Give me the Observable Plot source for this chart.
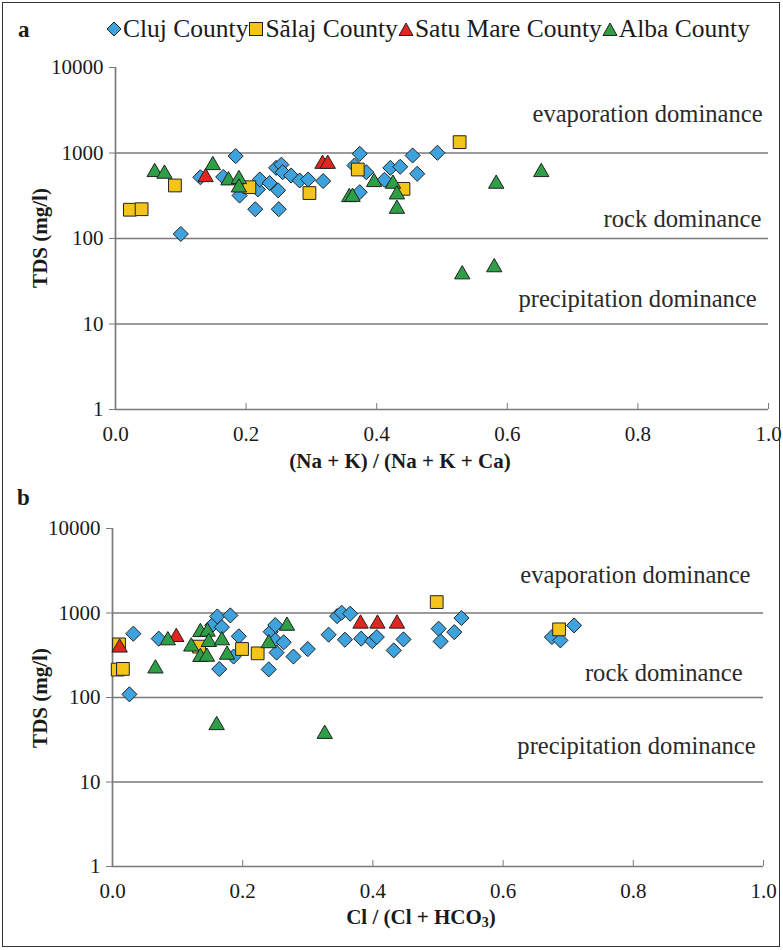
<!DOCTYPE html>
<html><head><meta charset="utf-8">
<script src="https://cdn.jsdelivr.net/npm/d3@7"></script>
<script src="https://cdn.jsdelivr.net/npm/@observablehq/plot@0.6"></script>
<style>
body{margin:0;background:#fff;}
#fig{position:relative;width:783px;height:950px;overflow:hidden;font-family:"Liberation Serif","Times New Roman",serif;color:#1a1a1a;background:#fff}
.frame{position:absolute;left:2px;top:2px;width:776px;height:943px;border:1.5px solid #333;pointer-events:none}
.abs{position:absolute;white-space:nowrap;}
.panel{position:absolute;left:0;}
.ttl{font-weight:bold;font-size:21px;transform:translate(-50%,-50%);}
.ylab{font-weight:bold;font-size:21px;transform:translate(-50%,-50%) rotate(-90deg);}
.legend{position:absolute;left:106px;top:14px;display:flex;align-items:center;font-size:25.5px;white-space:nowrap;}
.legend svg{margin-right:1px}
</style></head><body>
<div id="fig"></div>
<script>
// ---------- data ----------
const counties = ["Cluj County", "Sălaj County", "Satu Mare County", "Alba County"];
const xTicks = [0, 0.2, 0.4, 0.6, 0.8, 1.0];
const yTicks = [1, 10, 100, 1000, 10000];
const gridTDS = [10, 100, 1000];

// panel a: (Na + K) / (Na + K + Ca) vs TDS
const aCluj_x = [0.100,0.130,0.165,0.184,0.190,0.214,0.218,0.221,0.236,0.246,0.249,0.250,0.254,0.256,0.269,0.282,0.295,0.318,0.366,0.374,0.374,0.384,0.412,0.421,0.436,0.455,0.462,0.493];
const aCluj_tds = [113,520,525,920,318,220,375,490,445,670,366,220,730,597,545,477,490,470,714,979,348,597,486,670,690,935,571,1005];
const aSalaj_x = [0.022,0.040,0.091,0.205,0.297,0.371,0.441,0.527];
const aSalaj_tds = [217,220,417,398,340,641,381,1339];
const aSatu_x = [0.138,0.317,0.325];
const aSatu_tds = [521,745,745];
const aAlba_x = [0.060,0.075,0.149,0.173,0.189,0.189,0.358,0.363,0.396,0.425,0.431,0.431,0.531,0.580,0.583,0.652];
const aAlba_tds = [597,571,720,477,494,394,304,306,456,436,327,222,38,46,436,597];

// panel b: Cl / (Cl + HCO3) vs TDS
const bCluj_x = [0.026,0.032,0.071,0.153,0.161,0.164,0.168,0.181,0.186,0.194,0.240,0.243,0.250,0.250,0.252,0.263,0.278,0.300,0.332,0.345,0.352,0.365,0.357,0.382,0.399,0.406,0.432,0.447,0.501,0.504,0.525,0.536,0.675,0.688,0.709];
const bCluj_tds = [109,569,497,714,910,217,680,937,305,530,215,600,720,475,340,450,305,374,554,918,1008,980,483,497,464,519,361,487,652,461,594,871,519,474,713];
const bSalaj_x = [0.008,0.016,0.010,0.133,0.199,0.223,0.498,0.686];
const bSalaj_tds = [214,218,425,400,375,333,1346,640];
const bSatu_x = [0.011,0.098,0.381,0.407,0.437];
const bSatu_tds = [389,519,747,747,747];
const bAlba_x = [0.066,0.085,0.121,0.135,0.146,0.135,0.145,0.148,0.168,0.176,0.160,0.240,0.268,0.326];
const bAlba_tds = [220,474,400,594,600,301,303,453,474,320,47,438,705,37];

// zone annotations
const zoneNames = ["evaporation dominance", "rock dominance", "precipitation dominance"];
const aZone_x = [0.991, 0.989, 0.982];
const aZone_tds = [2820, 168, 19.3];
const bZone_x = [0.980, 0.968, 0.988];
const bZone_tds = [2780, 193, 26.5];

// ---------- styles ----------
const fills = ["#3ea2dc", "#f5c419", "#e0261f", "#2e9e47"];
const symbols = ["diamond2", "square", "triangle", "triangle"];
const radii = [6.8, 7.2, 5.7, 5.7];

const zip = (xs, ys) => xs.map((x, i) => ({x, y: ys[i]}));
const AX = "#7a7a7a";

function panel(seriesX, seriesY, zx, zy, o) {
  const notes = zoneNames.map((t, i) => ({t, x: zx[i], y: zy[i]}));
  const marks = [
    Plot.ruleY(gridTDS, {stroke: AX, strokeWidth: 1.7}),
    Plot.ruleX([0], {stroke: AX, strokeWidth: 1.7}),
    Plot.ruleY([1], {stroke: AX, strokeWidth: 1.7}),
    Plot.axisY({ticks: yTicks, tickFormat: d => String(d), tickSize: 6, tickPadding: 6, stroke: AX, label: null, fill: "#1a1a1a"}),
    Plot.axisX({ticks: xTicks, tickFormat: () => "", tickSize: -6, stroke: AX, label: null}),
    Plot.axisX({ticks: xTicks, tickFormat: d3.format(".1f"), tickSize: 0, tickPadding: 17, label: null, fill: "#1a1a1a"}),
    Plot.text(notes, {x: "x", y: "y", text: "t", textAnchor: "end", fontSize: 24.6, fill: "#2a2a2a"})
  ];
  seriesX.forEach((xs, k) => {
    marks.push(Plot.dot(zip(xs, seriesY[k]), {
      x: "x", y: "y", symbol: symbols[k], r: radii[k], fill: fills[k],
      stroke: "#222", strokeWidth: 1
    }));
  });
  return Plot.plot({
    width: 783, height: 440,
    marginLeft: o.ml, marginRight: o.mr, marginTop: 20, marginBottom: o.mb,
    x: {domain: [0, 1], label: null},
    y: {type: "log", domain: [1, 10000], label: null},
    style: {fontFamily: "'Liberation Serif', 'Times New Roman', serif", fontSize: "21px", background: "transparent", overflow: "visible"},
    marks
  });
}

const fig = document.getElementById("fig");

const pa = panel([aCluj_x, aSalaj_x, aSatu_x, aAlba_x], [aCluj_tds, aSalaj_tds, aSatu_tds, aAlba_tds], aZone_x, aZone_tds, {ml: 115, mr: 15, mb: 78});
pa.classList.add("panel"); pa.style.top = "47px";
fig.appendChild(pa);

const pb = panel([bCluj_x, bSalaj_x, bSatu_x, bAlba_x], [bCluj_tds, bSalaj_tds, bSatu_tds, bAlba_tds], bZone_x, bZone_tds, {ml: 112, mr: 20, mb: 82});
pb.classList.add("panel"); pb.style.top = "508px";
fig.appendChild(pb);

// labels
function addDiv(cls, html, left, top, extra) {
  const d = document.createElement("div");
  d.className = "abs " + cls;
  d.innerHTML = html;
  d.style.left = left + "px"; d.style.top = top + "px";
  if (extra) Object.assign(d.style, extra);
  fig.appendChild(d);
  return d;
}
addDiv("", "a", 18, 17, {fontWeight: "bold", fontSize: "23px"});
addDiv("", "b", 17, 485, {fontWeight: "bold", fontSize: "23px"});
addDiv("ylab", "TDS (mg/l)", 40, 238);
addDiv("ylab", "TDS (mg/l)", 40, 698);
addDiv("ttl", "(Na + K) / (Na + K + Ca)", 400, 461);
addDiv("ttl", "Cl / (Cl + HCO<sub style='font-size:14px;vertical-align:-3px'>3</sub>)", 421, 918);

// legend
const shapeSvg = [
  '<polygon points="8,1 15,8 8,15 1,8"/>',
  '<rect x="1.5" y="1.5" width="13" height="13"/>',
  '<polygon points="8,2 15,14.5 1,14.5"/>',
  '<polygon points="8,2 15,14.5 1,14.5"/>'
];
const leg = document.createElement("div");
leg.className = "legend";
counties.forEach((c, k) => {
  const s = document.createElementNS("http://www.w3.org/2000/svg", "svg");
  s.setAttribute("width", 16); s.setAttribute("height", 16);
  s.innerHTML = shapeSvg[k];
  s.firstChild.setAttribute("fill", fills[k]);
  s.firstChild.setAttribute("stroke", "#222");
  s.firstChild.setAttribute("stroke-width", "1");
  leg.appendChild(s);
  const t = document.createElement("span");
  t.textContent = c;
  leg.appendChild(t);
});
fig.appendChild(leg);

const fr = document.createElement("div");
fr.className = "frame";
fig.appendChild(fr);
</script>
</body></html>
